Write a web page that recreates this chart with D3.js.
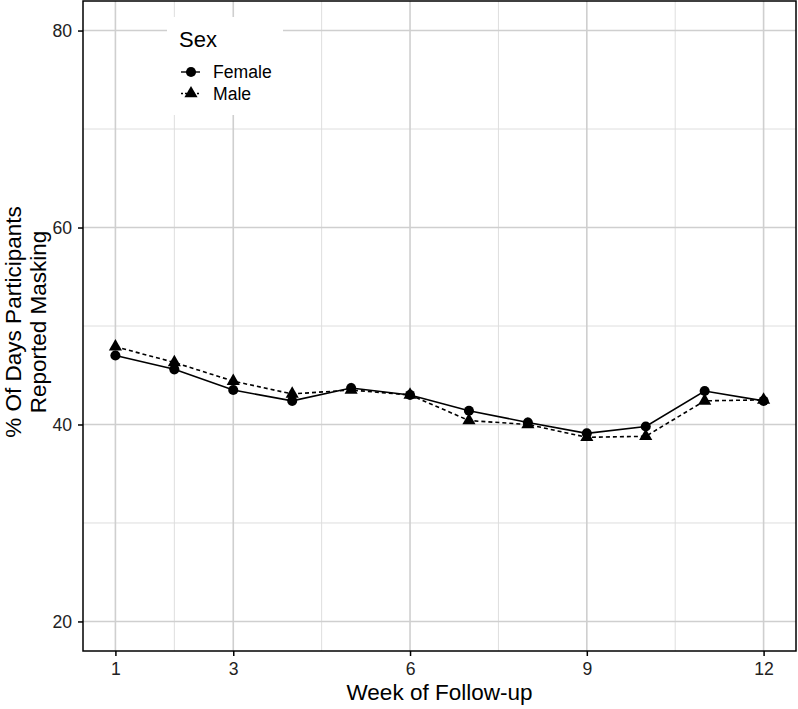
<!DOCTYPE html>
<html>
<head>
<meta charset="utf-8">
<script src="https://cdn.jsdelivr.net/npm/d3@7"></script>
<style>
  body { margin: 0; background: #fff; }
  svg { display: block; font-family: "Liberation Sans", Arial, sans-serif; }
</style>
</head>
<body>
<svg id="chart" width="798" height="709"></svg>
<script>
// Data
var weeks = [1, 2, 3, 4, 5, 6, 7, 8, 9, 10, 11, 12];
var female = [47.0, 45.6, 43.5, 42.4, 43.7, 43.0, 41.4, 40.2, 39.1, 39.8, 43.4, 42.4];
var male = [47.9, 46.3, 44.4, 43.1, 43.5, 43.0, 40.4, 40.0, 38.7, 38.8, 42.4, 42.5];
var xTicks = [1, 3, 6, 9, 12];
var xMinor = [2, 4.5, 7.5, 10.5];
var yTicks = [20, 40, 60, 80];
var yMinor = [30, 50, 70];
var seriesNames = ['Female', 'Male'];

// Panel box
var panel = { left: 83, right: 796, top: 1, bottom: 651 };

var svg = d3.select('#chart');

// ggplot style 5% expansion
var x = d3.scaleLinear()
    .domain([1 - 0.55, 12 + 0.55])
    .range([panel.left, panel.right]);
var y = d3.scaleLinear()
    .domain([20 - 3, 80 + 3])
    .range([panel.bottom, panel.top]);

var grid = svg.append('g').attr('class', 'grid');

// minor grid
grid.selectAll('.vminor').data(xMinor).enter().append('line')
    .attr('x1', d => x(d)).attr('x2', d => x(d))
    .attr('y1', panel.top).attr('y2', panel.bottom)
    .attr('stroke', '#dedede').attr('stroke-width', 1);
grid.selectAll('.hminor').data(yMinor).enter().append('line')
    .attr('y1', d => y(d)).attr('y2', d => y(d))
    .attr('x1', panel.left).attr('x2', panel.right)
    .attr('stroke', '#dedede').attr('stroke-width', 1);

// major grid
grid.selectAll('.vmajor').data(xTicks).enter().append('line')
    .attr('x1', d => x(d)).attr('x2', d => x(d))
    .attr('y1', panel.top).attr('y2', panel.bottom)
    .attr('stroke', '#cfcfcf').attr('stroke-width', 1.6);
grid.selectAll('.hmajor').data(yTicks).enter().append('line')
    .attr('y1', d => y(d)).attr('y2', d => y(d))
    .attr('x1', panel.left).attr('x2', panel.right)
    .attr('stroke', '#cfcfcf').attr('stroke-width', 1.6);

// Lines
var series = [
    { name: 'Female', values: female, dash: null, symbol: d3.symbolCircle, size: 80 },
    { name: 'Male', values: male, dash: '4,3', symbol: d3.symbolTriangle, size: 75 }
];

var line = d3.line()
    .x((d, i) => x(weeks[i]))
    .y(d => y(d));

series.forEach(function(s) {
    svg.append('path')
        .datum(s.values)
        .attr('d', line)
        .attr('fill', 'none')
        .attr('stroke', '#000')
        .attr('stroke-width', 1.6)
        .attr('stroke-dasharray', s.dash);
});

series.forEach(function(s) {
    svg.append('g').selectAll('path')
        .data(s.values)
        .enter()
        .append('path')
        .attr('d', d3.symbol().type(s.symbol).size(s.size))
        .attr('transform', (d, i) => 'translate(' + x(weeks[i]) + ',' + y(d) + ')')
        .attr('fill', '#000');
});

// Legend
var legend = svg.append('g').attr('transform', 'translate(167,17)');
legend.append('rect')
    .attr('width', 116).attr('height', 98)
    .attr('fill', '#fff');
legend.append('text')
    .attr('x', 12).attr('y', 30)
    .attr('font-size', 22)
    .text('Sex');
series.forEach(function(s, i) {
    var ky = 55 + i * 21.5;
    legend.append('line')
        .attr('x1', 14).attr('x2', 33)
        .attr('y1', ky).attr('y2', ky)
        .attr('stroke', '#000')
        .attr('stroke-width', 1.4)
        .attr('stroke-dasharray', s.dash ? '2,2' : null);
    legend.append('path')
        .attr('d', d3.symbol().type(s.symbol).size(s.size))
        .attr('transform', 'translate(24,' + ky + ')');
    legend.append('text')
        .attr('x', 46).attr('y', ky + 6)
        .attr('font-size', 17.6)
        .text(seriesNames[i]);
});

// Panel border
svg.append('rect')
    .attr('x', panel.left).attr('y', panel.top)
    .attr('width', panel.right - panel.left)
    .attr('height', panel.bottom - panel.top)
    .attr('fill', 'none')
    .attr('stroke', '#000')
    .attr('stroke-width', 1.5);

// Axes
var xAxis = svg.append('g')
    .attr('transform', 'translate(0,' + panel.bottom + ')')
    .call(d3.axisBottom(x).tickValues(xTicks).tickSize(5).tickPadding(7));
var yAxis = svg.append('g')
    .attr('transform', 'translate(' + panel.left + ',0)')
    .call(d3.axisLeft(y).tickValues(yTicks).tickSize(5).tickPadding(6));

[xAxis, yAxis].forEach(function(a) {
    a.select('.domain').remove();
    a.selectAll('.tick line').attr('stroke', '#000').attr('stroke-width', 1.5);
    a.selectAll('.tick text')
        .attr('fill', '#222')
        .attr('font-size', 17.6)
        .attr('font-family', '"Liberation Sans", Arial, sans-serif');
});

// Axis titles
svg.append('text')
    .attr('x', (panel.left + panel.right) / 2)
    .attr('y', 700)
    .attr('text-anchor', 'middle')
    .attr('font-size', 22.5)
    .text('Week of Follow-up');

var yTitle = svg.append('text')
    .attr('transform', 'translate(0,322) rotate(-90)')
    .attr('text-anchor', 'middle')
    .attr('font-size', 22.5);
yTitle.append('tspan').attr('x', 0).attr('y', 20.5).text('% Of Days Participants');
yTitle.append('tspan').attr('x', 0).attr('y', 45.5).text('Reported Masking');
</script>
</body>
</html>
